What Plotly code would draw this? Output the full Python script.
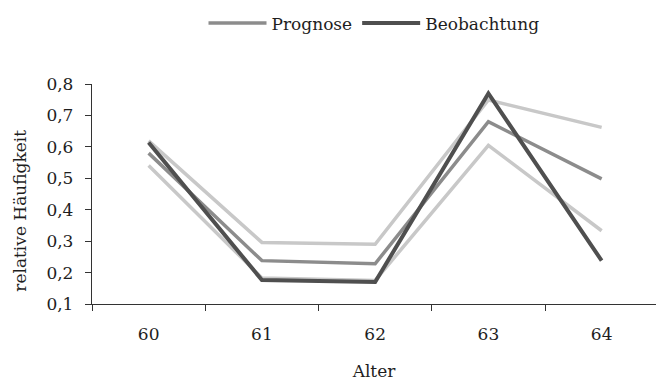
import plotly.graph_objects as go

ages = ["60", "61", "62", "63", "64"]
prognose = [0.58, 0.238, 0.228, 0.68, 0.498]
upper = [0.619, 0.296, 0.290, 0.749, 0.662]
lower = [0.541, 0.183, 0.175, 0.605, 0.333]
beobachtung = [0.614, 0.176, 0.170, 0.770, 0.238]

FONT = "DejaVu Serif"
TXT = "#1e1e1e"
LIGHT = "#c8c8c8"
MID = "#8c8c8c"
DARK = "#4f4f4f"
f17 = dict(family=FONT, size=17, color=TXT)

fig = go.Figure()
fig.add_trace(go.Scatter(x=ages, y=upper, mode="lines", line=dict(color=LIGHT, width=3.5),
                         showlegend=False, hoverinfo="skip"))
fig.add_trace(go.Scatter(x=ages, y=lower, mode="lines", line=dict(color=LIGHT, width=3.5),
                         showlegend=False, hoverinfo="skip"))
fig.add_trace(go.Scatter(x=ages, y=prognose, mode="lines", name="Prognose",
                         line=dict(color=MID, width=3.5)))
fig.add_trace(go.Scatter(x=ages, y=beobachtung, mode="lines", name="Beobachtung",
                         line=dict(color=DARK, width=4)))

fig.update_layout(
    width=656, height=385,
    margin=dict(l=92, r=0, t=84, b=81),
    paper_bgcolor="white", plot_bgcolor="white",
    separators=",.",
    font=f17,
    legend=dict(orientation="h", x=0.5, xanchor="center", y=1.275, yanchor="middle",
                itemwidth=58, font=f17, traceorder="normal"),
    xaxis=dict(type="category", range=[-0.5, 4.48], tickson="boundaries",
               ticks="outside", ticklen=6, tickcolor="#333", tickwidth=1.3,
               showline=True, linecolor="#333", linewidth=1.3, showgrid=False,
               zeroline=False, ticklabelstandoff=14, tickfont=f17,
               title=dict(text="Alter", standoff=22, font=f17)),
    yaxis=dict(range=[0.1, 0.8], dtick=0.1, tick0=0.1, tickformat=".1f",
               ticks="outside", ticklen=6, tickcolor="#333", tickwidth=1.3,
               showline=True, linecolor="#333", linewidth=1.3, showgrid=False,
               zeroline=False, ticklabelstandoff=8, tickfont=f17),
    annotations=[dict(text="relative Häufigkeit", textangle=-90, showarrow=False,
                      xref="paper", yref="paper", x=-0.128, y=0.423,
                      xanchor="center", yanchor="middle", font=f17)],
)

fig.write_html("out.html")
